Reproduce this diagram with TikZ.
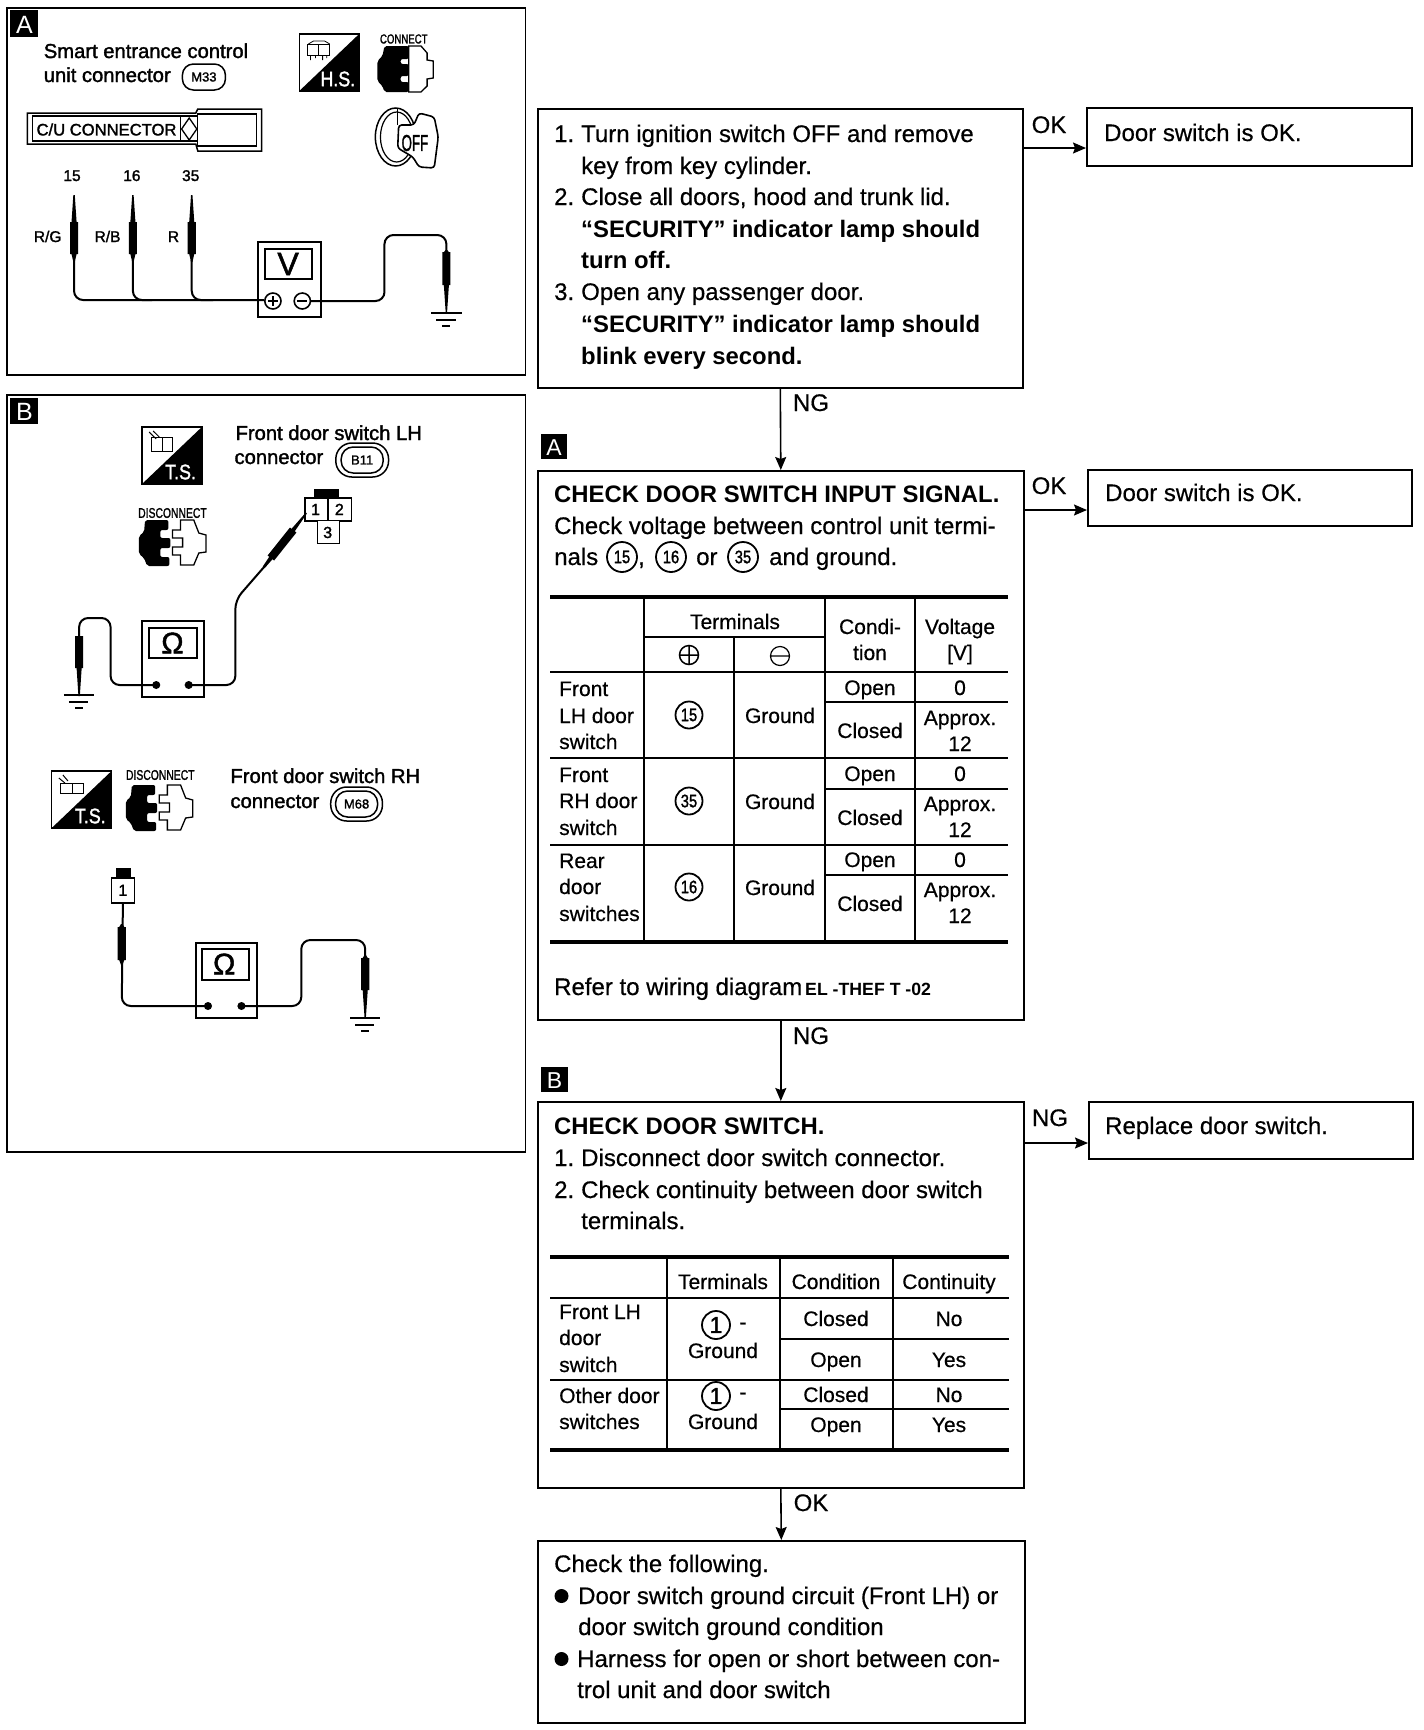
\documentclass[tikz,border=0pt]{standalone}
\usepackage{fontspec}
\usepackage{graphicx}
\usetikzlibrary{arrows.meta}
\setmainfont{Liberation Sans}
\newfontfamily\semib[FakeBold=1.6]{Liberation Sans}
\newfontfamily\bodyf[FakeBold=0.5]{Liberation Sans}
\newfontfamily\heavyf{Liberation Sans Bold}
\newcommand{\mainf}{\bodyf\fontsize{24}{24}\selectfont}
\newcommand{\boldf}{\heavyf\fontsize{23.85}{24}\selectfont}
\newcommand{\tabf}{\bodyf\fontsize{21}{24}\selectfont}
\newcommand{\panf}{\semib\fontsize{20.2}{24}\selectfont}
\newcount\tnc
\newcommand{\tl}[4][]{\global\advance\tnc by 1 \node[lab,anchor=base west,#1] (t\the\tnc) at (#2,#3) {#4};}
\newcommand{\tc}[4][]{\global\advance\tnc by 1 \node[lab,anchor=base,#1] (t\the\tnc) at (#2,#3) {#4};}
\newcommand{\cn}[4][13.5]{\global\advance\tnc by 1 \node[circle,draw=black,line width=1.8pt,minimum size=#1*2pt,inner sep=0,font=\semib\fontsize{18}{18}\selectfont] (t\the\tnc) at (#2,#3) {\scalebox{.82}[1]{#4}};}
\newcommand{\cno}[3]{\global\advance\tnc by 1 \node[circle,draw=black,line width=1.8pt,minimum size=28pt,inner sep=0,font=\semib\fontsize{23}{23}\selectfont] (t\the\tnc) at (#1,#2) {#3};}
% black tag
\newcommand{\tagbox}[5]{\node[tag,minimum width=#4pt,minimum height=#5pt,anchor=north west] (#1) at (#2,#3) {};}
% probe body
\newcommand{\probe}[5]{\fill[black] (#1-.7,#2)--(#1-2.5,#3)--(#1-4,#3)--(#1-4,#4)--(#1-2.5,#4)--(#1-.7,#5)--(#1+.7,#5)--(#1+2.5,#4)--(#1+4,#4)--(#1+4,#3)--(#1+2.5,#3)--(#1+.7,#2)--cycle;}
\newcommand{\gnd}[2]{\draw[line width=2pt] (#1-15,#2)--(#1+15,#2); \draw[line width=2pt] (#1-10,#2+7)--(#1+9,#2+7); \draw[line width=2.5pt] (#1-4,#2+13)--(#1+4,#2+13);}
% service icon
\newcommand{\sicon}[3]{\draw[line width=1.5pt,fill=white] (#1,#2) rectangle ++(59,57); \fill[black] (#1,#2+57)--(#1+59,#2)--(#1+59,#2+57)--cycle;
 \global\advance\tnc by 1 \node[inner sep=0,text=white,font=\semib\fontsize{21}{21}\selectfont] (t\the\tnc) at (#1+38,#2+45) {\scalebox{.85}[1]{#3}};}
\newcommand{\discon}[2]{\begin{scope}[shift={(#1,#2)}]
 \fill[black,rounded corners=2pt] (6,0)--(29,0)--(29,10)--(21,10)--(21,18)--(31,18)--(31,28)--(21,28)--(21,37)--(30,37)--(30,46)--(8,46)--(5,38)--(0,34)--(0,16)--(5,12)--cycle;
 \draw[line width=1.3pt,fill=white] (41,0)--(54,0)--(59,13)--(66,15)--(66,32)--(59,33)--(54,45)--(41,45)--(41,35)--(33,35)--(33,27)--(43,27)--(43,18)--(33,18)--(33,10)--(41,10)--cycle;
 \end{scope}}
\newcommand{\smalltxt}[4]{\global\advance\tnc by 1 \node[inner sep=0,font=\semib\fontsize{#3}{#3}\selectfont] (t\the\tnc) at (#1,#2) {\scalebox{.74}[1]{#4}};}
\tikzset{
 x=1pt,y=-1pt,
 lab/.style={inner sep=0,font=\mainf},
 frame/.style={draw=black,line width=1.6pt,fill=none,inner sep=0,anchor=north west},
 tag/.style={fill=black,inner sep=0},
 arr/.style={line width=1.6pt,-{Stealth[length=13pt,width=11pt,inset=2pt]}},
 thick line/.style={line width=3.4pt},
 thin line/.style={line width=1.6pt},
 wire/.style={line width=2pt,rounded corners=9pt},
 meter/.style={draw=black,line width=2pt,inner sep=0,anchor=north west},
}
\begin{document}
\begin{tikzpicture}
\useasboundingbox (0,0) rectangle (1424,1730);
\fill[white] (0,0) rectangle (1424,1730);

\begin{scope}[xscale=1.0145]
%%%%%%%% Panel A
\node[frame,minimum width=518.5pt,minimum height=367pt] (panA) at (6,7) {};
\tagbox{tagA}{10}{10}{28}{27}
\tc[font=\fontsize{25}{25}\selectfont,text=white]{24}{33}{A}
\begin{scope}[lab/.append style={font=\panf}]
\tl{43}{58}{Smart entrance control}
\tl{43}{82}{unit connector}
\end{scope}
\node[draw=black,line width=1.5pt,rounded corners=11pt,minimum width=43pt,minimum height=26pt,inner sep=0,font=\semib\fontsize{13}{13}\selectfont] (m33) at (201,77) {M33};
\sicon{295}{34}{H.S.}
\begin{scope}[line width=.8pt]
\draw (303,44) rectangle (314,55); \draw (314,44) rectangle (325,55);
\draw (306,55)--(306,60) (311,55)--(311,58) (318,55)--(318,60) (322,55)--(322,58) (309,41)--(320,41) (304,44)--(309,41) (320,41)--(325,44);
\end{scope}
\smalltxt{398}{39}{13}{CONNECT}
\begin{scope}[shift={(372,46)}]
 \draw[line width=1.3pt,fill=white] (31,0)--(43,0)--(49,7)--(49,14)--(55,15)--(55,32)--(49,33)--(49,40)--(43,46)--(31,46)--cycle;
 \fill[black,rounded corners=2pt] (7,0)--(31,0)--(31,13)--(23,13)--(23,18)--(31,18)--(31,30)--(23,30)--(23,36)--(31,36)--(31,46)--(7,46)--(5,40)--(0,35)--(0,15)--(5,10)--cycle;
\end{scope}
% C/U connector
\draw[line width=1.5pt] (27,113)--(193,113)--(195,109)--(258,109)--(258,151)--(195,151)--(193,144)--(27,144)--cycle;
\draw[line width=1.3pt] (32,116) rectangle (178,141);
\draw[line width=1.3pt] (178,116) rectangle (195,141);
\draw[line width=1.3pt] (186.5,118)--(194,129)--(186.5,140)--(179,129)--cycle;
\draw[line width=1.3pt] (195,114) rectangle (253,146);
\node[inner sep=0,font=\semib\fontsize{16.6}{16.6}\selectfont] (cu) at (105,129.5) {C/U CONNECTOR};
% key
\draw[line width=1.5pt] (390,137) ellipse [x radius=20,y radius=29];
\draw[line width=1.2pt] (391,137) ellipse [x radius=16,y radius=25];
\draw[line width=1.5pt] (392,109)--(392,125);
\draw[line width=1.6pt,fill=white,rounded corners=3pt] (393,125)--(408,125)--(413,113)--(428,117)--(432,137)--(428,168)--(413,167)--(407,157)--(392,148)--cycle;
\node[inner sep=0,font=\semib\fontsize{23}{23}\selectfont] (off) at (409,143) {\scalebox{.58}[1]{OFF}};
% terminals
\begin{scope}[lab/.append style={font=\semib\fontsize{15.5}{16}\selectfont}]
\tc{71}{181}{15}\tc{130}{181}{16}\tc{188}{181}{35}
\tc{47}{242}{R/G}\tc{106}{242}{R/B}\tc{171}{242}{R}
\end{scope}
\probe{73}{195}{222}{254}{262}
\probe{131}{195}{222}{254}{262}
\probe{189}{195}{222}{254}{262}
\draw[wire] (73,260)--(73,300)--(260,300);
\draw[wire] (131,260)--(131,300)--(150,300);
\draw[wire] (189,260)--(189,300)--(210,300);
\node[meter,minimum width=63pt,minimum height=75pt] (metA) at (253,241) {};
\draw[line width=2pt] (261,249) rectangle (308,279);
\node[inner sep=0,font=\semib\fontsize{32}{32}\selectfont] (vA) at (284,264) {V};
\draw[line width=1.6pt,fill=white] (269,301) circle (8);
\draw[line width=1.6pt,fill=white] (298,301) circle (8);
\draw[line width=1.8pt] (264,301)--(274,301) (269,296)--(269,306) (293,301)--(303,301);
\draw[wire] (306,301)--(379,301)--(379,235)--(440,235)--(440,255);
\probe{440}{250}{252}{285}{312}
\gnd{440}{313}

%%%%%%%% Panel B
\node[frame,minimum width=518.5pt,minimum height=757pt] (panB) at (6,394) {};
\tagbox{tagB}{10}{398}{28}{26}
\tc[font=\fontsize{25}{25}\selectfont,text=white]{24}{420}{B}
\sicon{140}{427}{T.S.}
\begin{scope}[line width=1pt]
\draw (149,437) rectangle (160,451); \draw (160,437) rectangle (170,451); \draw (147,432)--(154,439) (151,431)--(157,437);
\end{scope}
\begin{scope}[lab/.append style={font=\panf}]
\tl{232}{440}{Front door switch LH}
\tl{231}{464}{connector}
\tl{227}{783}{Front door switch RH}
\tl{227}{808}{connector}
\end{scope}
\draw[line width=1.5pt,rounded corners=16pt] (331,443) rectangle (383,477);
\node[draw=black,line width=1.5pt,rounded corners=12pt,minimum width=42pt,minimum height=26pt,inner sep=0,font=\semib\fontsize{13}{13}\selectfont] (b11) at (357,460) {B11};
\smalltxt{170}{513}{14}{DISCONNECT}
\discon{137}{520}
\fill[black] (310,489) rectangle (334,497);
\begin{scope}[lab/.append style={font=\semib\fontsize{16}{16}\selectfont}]
\node[draw=black,line width=1.6pt,fill=white,minimum width=23pt,minimum height=23pt,anchor=north west,inner sep=0] (c1) at (300,497) {};
\node[draw=black,line width=1.6pt,fill=white,minimum width=23pt,minimum height=23pt,anchor=north west,inner sep=0] (c2) at (323,497) {};
\node[draw=black,line width=1.2pt,fill=white,minimum width=22pt,minimum height=23pt,anchor=north west,inner sep=0] (c3) at (312,520) {};
\tc{311}{515}{1}\tc{334.5}{515}{2}\tc{323}{538}{3}
\end{scope}
\fill[black] (302.5,513.5)--(290.6,531.2)--(292.2,532.5)--(270.2,560.5)--(268.6,559.2)--(261,568)--(259,566.5)--(265.4,556.8)--(263.8,555.5)--(285.8,527.5)--(287.4,528.8)--(301.5,512.5)--cycle;
\draw[wire] (262,565)--(232,600)--(232,685)--(186,685);
\node[meter,minimum width=62pt,minimum height=76pt] (metB) at (139,620) {};
\draw[line width=2pt] (147,628) rectangle (194,658);
\node[inner sep=0,font=\semib\fontsize{30}{30}\selectfont] (oB) at (170,643) {Ω};
\fill[black] (154,685) circle (4) (186,685) circle (4);
\draw[wire] (154,685)--(109,685)--(109,618)--(78,618)--(78,640);
\probe{78}{636}{636}{668}{696}
\gnd{78}{695}

\sicon{51}{771}{T.S.}
\begin{scope}[line width=1pt]
\draw (60,783) rectangle (71,793); \draw (71,783) rectangle (82,793); \draw (58,778)--(64,783) (62,775)--(67,781);
\end{scope}
\smalltxt{158}{775}{14}{DISCONNECT}
\discon{124}{785}
\draw[line width=1.5pt,rounded corners=16pt] (326,787) rectangle (377,821);
\node[draw=black,line width=1.5pt,rounded corners=12pt,minimum width=42pt,minimum height=26pt,inner sep=0,font=\semib\fontsize{13}{13}\selectfont] (m68) at (351.5,804) {M68};
\fill[black] (114,868) rectangle (129,877);
\node[draw=black,line width=1.6pt,fill=white,minimum width=23pt,minimum height=25pt,anchor=north west,inner sep=0,font=\semib\fontsize{16}{16}\selectfont] (c4) at (109,877) {1};
\draw[wire] (c4.south)--(120,1006)--(205,1006);
\probe{120}{924}{927}{960}{965}
\node[meter,minimum width=61pt,minimum height=75pt] (metC) at (192,942) {};
\draw[line width=2pt] (199,949) rectangle (245,980);
\node[inner sep=0,font=\semib\fontsize{30}{30}\selectfont] (oC) at (221,964) {Ω};
\fill[black] (205,1006) circle (4) (238,1006) circle (4);
\draw[wire] (238,1006)--(297,1006)--(297,940)--(360,940)--(360,960);
\probe{360}{955}{958}{990}{1017}
\gnd{360}{1018}
\end{scope}

%%%%%%%% Flow boxes
\node[frame,minimum width=485pt,minimum height=279pt] (b1) at (537,108) {};
\node[frame,minimum width=486pt,minimum height=549pt] (b2) at (537,470) {};
\node[frame,minimum width=486pt,minimum height=386pt] (b3) at (537,1101) {};
\node[frame,minimum width=487pt,minimum height=182pt] (b4) at (537,1540) {};
\node[frame,minimum width=325pt,minimum height=58pt] (ok1) at (1086,107) {};
\node[frame,minimum width=324pt,minimum height=56pt] (ok2) at (1087,469) {};
\node[frame,minimum width=324pt,minimum height=57pt] (ng3) at (1088,1101) {};
\coordinate (a1) at (1086,148);
\coordinate (a2) at (1087,510);
\coordinate (a3) at (1088,1143);
\draw[arr] (b1.east |- a1)--(a1);
\draw[arr] (b2.east |- a2)--(a2);
\draw[arr] (b3.east |- a3)--(a3);
\draw[arr] (b1.south)--(b2.north);
\draw[arr] (b2.south)--(b3.north);
\draw[arr] (b3.south)--(b4.north);
\tc{1049}{133}{OK}
\tc{1049}{494}{OK}
\tc{1050}{1126}{NG}
\tc{811}{411}{NG}
\tc{811}{1044}{NG}
\tc{811}{1511}{OK}
\tl{1104}{141}{Door switch is OK.}
\tl{1105}{501}{Door switch is OK.}
\tl{1105}{1134}{Replace door switch.}

% tags
\tagbox{tagA2}{541}{434}{26}{25}
\tc[font=\fontsize{23}{23}\selectfont,text=white]{554}{455}{A}
\tagbox{tagB2}{541}{1067}{27}{25}
\tc[font=\fontsize{23}{23}\selectfont,text=white]{554.5}{1088}{B}

% box 1 text
\tl{554}{142}{1.}\tl{581}{142}{Turn ignition switch OFF and remove}
\tl{581}{174}{key from key cylinder.}
\tl{554}{205}{2.}\tl{581}{205}{Close all doors, hood and trunk lid.}
\tl[font=\boldf]{581}{237}{“SECURITY” indicator lamp should}
\tl[font=\boldf]{581}{268}{turn off.}
\tl{554}{300}{3.}\tl{581}{300}{Open any passenger door.}
\tl[font=\boldf]{581}{332}{“SECURITY” indicator lamp should}
\tl[font=\boldf]{581}{364}{blink every second.}

% box 2 text
\tl[font=\boldf]{554}{502}{CHECK DOOR SWITCH INPUT SIGNAL.}
\tl{554}{534}{Check voltage between control unit termi-}
\tl{554}{565}{nals}
\cn[15]{622}{557}{15}\tl{638}{565}{,}
\cn[15]{671}{557}{16}\tl{696}{565}{or}
\cn[15]{743}{557}{35}\tl{769}{565}{and ground.}

% table A
\draw[thick line] (550,597)--(1008,597) (550,942)--(1008,942);
\draw[thin line] (644,597)--(644,942) (734,637)--(734,942) (825,597)--(825,942) (915,597)--(915,942);
\draw[thin line] (644,637)--(825,637);
\draw[thin line] (550,672)--(1008,672) (550,758)--(1008,758) (550,845)--(1008,845);
\draw[thin line] (825,702)--(1008,702) (825,789)--(1008,789) (825,875)--(1008,875);
\begin{scope}[lab/.append style={font=\tabf}]
\tc{735}{629}{Terminals}
\tc{870}{634}{Condi-}\tc{870}{660}{tion}
\tc{960}{634}{Voltage}\tc{960}{660}{[V]}
\tl{559}{696}{Front}\tl{559}{723}{LH door}\tl{559}{749}{switch}
\tl{559}{782}{Front}\tl{559}{808}{RH door}\tl{559}{835}{switch}
\tl{559}{868}{Rear}\tl{559}{894}{door}\tl{559}{921}{switches}
\tc{780}{723}{Ground}\tc{780}{809}{Ground}\tc{780}{895}{Ground}
\tc{870}{695}{Open}\tc{960}{695}{0}
\tc{870}{738}{Closed}\tc{960}{725}{Approx.}\tc{960}{751}{12}
\tc{870}{781}{Open}\tc{960}{781}{0}
\tc{870}{825}{Closed}\tc{960}{811}{Approx.}\tc{960}{837}{12}
\tc{870}{867}{Open}\tc{960}{867}{0}
\tc{870}{911}{Closed}\tc{960}{897}{Approx.}\tc{960}{923}{12}
\end{scope}
\draw[line width=1.5pt] (689,655) circle (9.5) (679.5,655)--(698.5,655) (689,645.5)--(689,664.5);
\draw[line width=1.2pt] (780,656) circle (9.5) (770.5,656)--(789.5,656);
\cn{689}{715}{15}\cn{689}{801}{35}\cn{689}{887}{16}
\tl{554}{995}{Refer to wiring diagram}
\tl[font=\heavyf\fontsize{17.7}{18}\selectfont]{805}{995}{EL -THEF T -02}

% box 3 text
\tl[font=\boldf]{554}{1134}{CHECK DOOR SWITCH.}
\tl{554}{1166}{1.}\tl{581}{1166}{Disconnect door switch connector.}
\tl{554}{1198}{2.}\tl{581}{1198}{Check continuity between door switch}
\tl{581}{1229}{terminals.}

% table B
\draw[thick line] (550,1257)--(1009,1257) (550,1450)--(1009,1450);
\draw[thin line] (667,1257)--(667,1450) (780,1257)--(780,1450) (893,1257)--(893,1450);
\draw[thin line] (550,1298)--(1009,1298) (550,1380)--(1009,1380);
\draw[thin line] (780,1339)--(1009,1339) (780,1409)--(1009,1409);
\begin{scope}[lab/.append style={font=\tabf}]
\tc{723}{1289}{Terminals}\tc{836}{1289}{Condition}\tc{949}{1289}{Continuity}
\tl{559}{1319}{Front LH}\tl{559}{1345}{door}\tl{559}{1372}{switch}
\tl{559}{1403}{Other door}\tl{559}{1429}{switches}
\tc{723}{1358}{Ground}\tc{723}{1429}{Ground}
\tc{743}{1329}{-}\tc{743}{1399}{-}
\tc{836}{1326}{Closed}\tc{949}{1326}{No}
\tc{836}{1367}{Open}\tc{949}{1367}{Yes}
\tc{836}{1402}{Closed}\tc{949}{1402}{No}
\tc{836}{1432}{Open}\tc{949}{1432}{Yes}
\end{scope}
\cno{716}{1325}{1}\cno{716}{1396}{1}

% box 4 text
\tl{554}{1572}{Check the following.}
\fill[black] (561.5,1596) circle (7) (561.5,1659) circle (7);
\tl{578}{1604}{Door switch ground circuit (Front LH) or}
\tl{578}{1635}{door switch ground condition}
\tl{577}{1667}{Harness for open or short between con-}
\tl{577}{1698}{trol unit and door switch}
\end{tikzpicture}
\end{document}
